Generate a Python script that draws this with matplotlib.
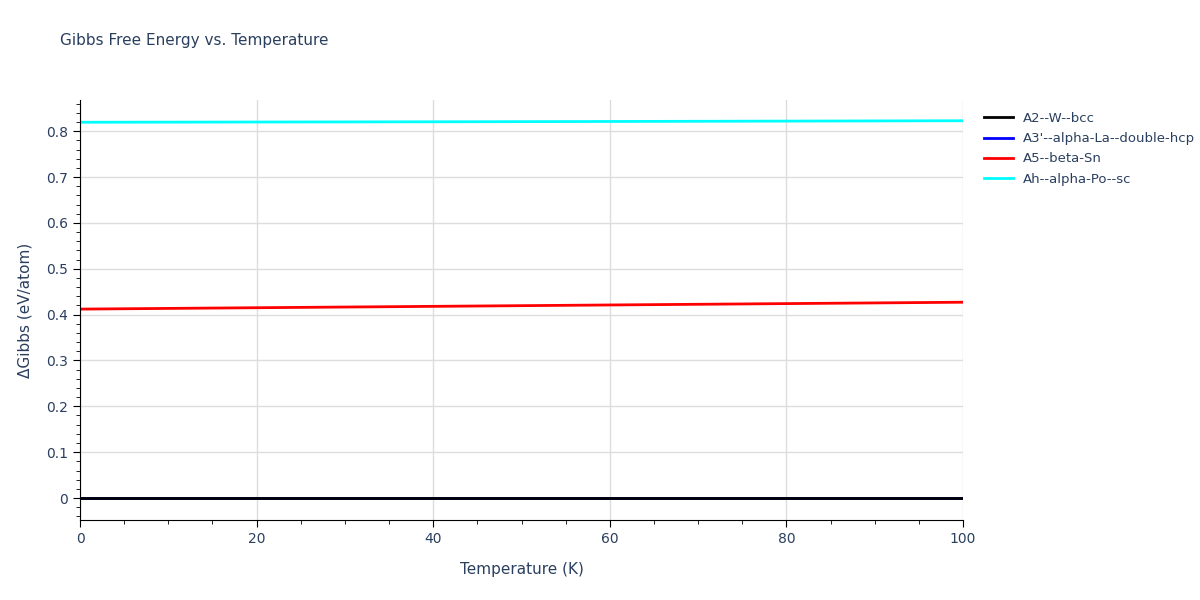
import matplotlib
matplotlib.use("Agg")
import matplotlib.pyplot as plt
from matplotlib.ticker import MultipleLocator

# values
temperature = [0, 20, 40, 60, 80, 100]
g_a2 = [0, 0, 0, 0, 0, 0]
g_a3p = [0, 0, 0, 0, 0, 0]
g_a5 = [0.412, 0.415, 0.418, 0.421, 0.424, 0.427]
g_ah = [0.8195, 0.8200, 0.8205, 0.8212, 0.8220, 0.8228]

names = ["A2--W--bcc", "A3'--alpha-La--double-hcp", "A5--beta-Sn", "Ah--alpha-Po--sc"]
colors = ["black", "blue", "red", "cyan"]
series = [g_a2, g_a3p, g_a5, g_ah]

txt = "#2a3f5f"
fig = plt.figure(figsize=(12, 6), dpi=100)
ax = fig.add_axes([0.0667, 0.1333, 0.7358, 0.70])

# draw blue first so black sits on top like the reference
order = [1, 0, 2, 3]
lines = {}
for i in order:
    lines[i], = ax.plot(temperature, series[i], color=colors[i], lw=2, label=names[i])

ax.set_xlim(0, 100)
ax.set_ylim(-0.048, 0.868)
ax.xaxis.set_major_locator(MultipleLocator(20))
ax.xaxis.set_minor_locator(MultipleLocator(5))
ax.yaxis.set_major_locator(MultipleLocator(0.1))
ax.yaxis.set_minor_locator(MultipleLocator(0.02))
ax.grid(True, which="major", color="#dddddd", lw=1)
ax.set_axisbelow(True)
for s in ["top", "right"]:
    ax.spines[s].set_visible(False)
for s in ["left", "bottom"]:
    ax.spines[s].set_color("black")
ax.tick_params(which="major", direction="out", length=5, colors=txt, labelsize=10)
ax.tick_params(which="minor", direction="out", length=3, color="black")
ax.tick_params(axis="both", which="both", color="black")
ax.yaxis.set_major_formatter(matplotlib.ticker.FuncFormatter(lambda v, p: "0" if abs(v) < 1e-9 else f"{v:.1f}"))

ax.set_xlabel("Temperature (K)", color=txt, fontsize=11, labelpad=12)
ax.set_ylabel("ΔGibbs (eV/atom)", color=txt, fontsize=11, labelpad=10)
fig.text(0.05, 0.925, "Gibbs Free Energy vs. Temperature", color=txt, fontsize=11)

leg = ax.legend([lines[i] for i in range(4)], names, loc="upper left",
                bbox_to_anchor=(1.01, 1.0), frameon=False, fontsize=9.5,
                handlelength=2.2, labelspacing=0.55)
for t in leg.get_texts():
    t.set_color(txt)

fig.savefig("out.png")
